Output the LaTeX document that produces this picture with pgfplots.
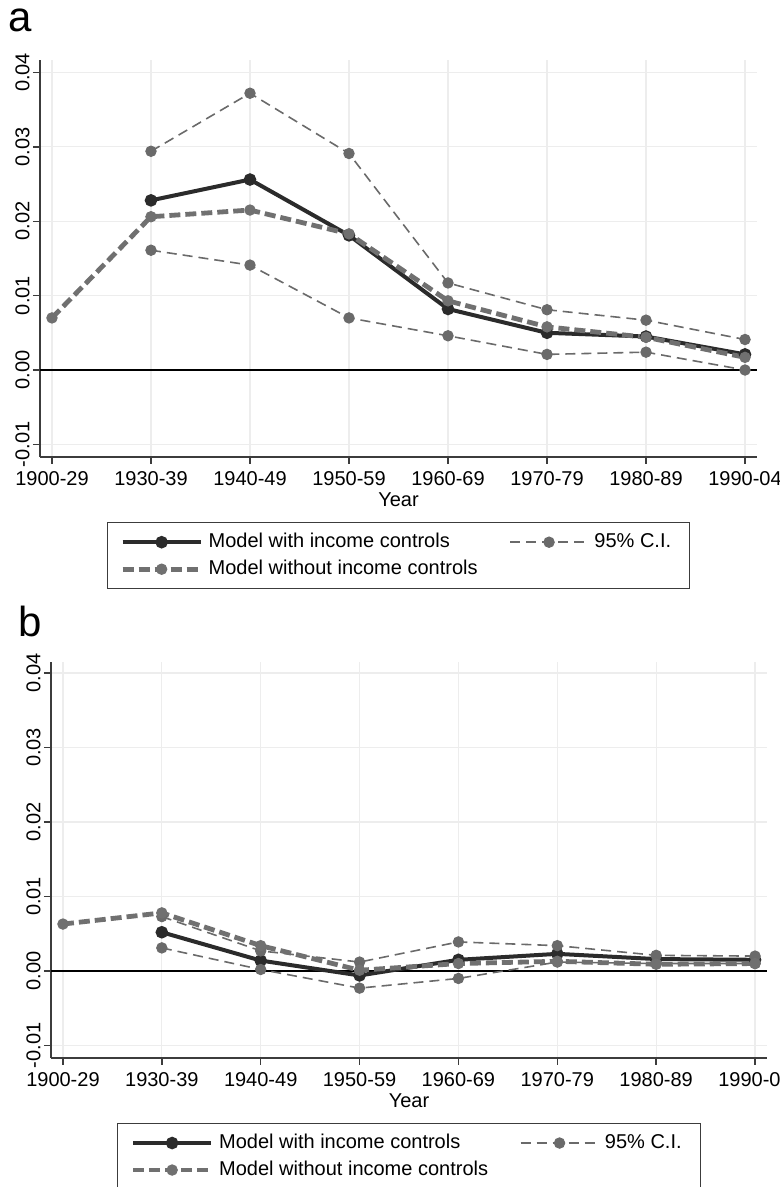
\documentclass[border=0pt]{standalone}
\usepackage{fontspec}
\setmainfont{Liberation Sans}
\usepackage{pgfplots}
\pgfplotsset{compat=1.18}

\definecolor{withc}{HTML}{2B2B2B}
\definecolor{woc}{HTML}{707070}
\definecolor{cic}{HTML}{6A6A6A}
\definecolor{gridc}{HTML}{EDEDED}
\definecolor{axc}{HTML}{3C3C3C}

\pgfplotsset{
  withstyle/.style={withc, line width=2pt, mark=*, mark size=2.1pt, mark options={solid, fill=withc}},
  wostyle/.style={woc, line width=2.4pt, dash pattern=on 5.5pt off 2.5pt, mark=*, mark size=2.6pt, mark options={solid, fill=woc, line width=0.5pt}},
  cistyle/.style={cic, line width=0.8pt, dash pattern=on 5pt off 3pt, mark=*, mark size=2.6pt, mark options={solid, fill=cic, line width=0.5pt}},
  panel/.style={
    scale only axis, width=358.5pt, height=198.5pt,
    xmin=-0.121, xmax=7.121,
    axis lines*=left, axis line style={axc, line width=0.7pt},
    tick align=outside, major tick length=3.5pt,
    tick style={axc, line width=0.7pt},
    xtick={0,...,7},
    xticklabels={1900-29,1930-39,1940-49,1950-59,1960-69,1970-79,1980-89,1990-04},
    ytick={-0.01,0,0.01,0.02,0.03,0.04},
    scaled y ticks=false,
    /pgf/number format/assume math mode=true,
    yticklabel style={rotate=90, anchor=south, inner sep=0pt,
      /pgf/number format/fixed, /pgf/number format/fixed zerofill,
      /pgf/number format/precision=2},
    yticklabel shift=1.5pt,
    grid=major, major grid style={gridc, line width=0.6pt},
    ticklabel style={font=\fontsize{10}{12}\selectfont},
    xlabel={Year},
    xlabel style={font=\fontsize{10}{12}\selectfont, at={(axis description cs:0.5,0)}, anchor=center, yshift=-21.5pt},
    legend columns=2,
    legend cell align=left,
    legend image code/.code={\draw[mark repeat=2,mark phase=2] plot coordinates {(0pt,0pt) (19.5pt,0pt) (39pt,0pt)};},
    legend style={at={(0.5,-0.164)}, anchor=north, draw=axc, line width=0.6pt,
      inner xsep=6.5pt, inner ysep=3pt,
      font=\fontsize{10}{12}\selectfont,
      nodes={inner xsep=2.8pt, inner ysep=2pt, text height=7.5pt, text depth=2pt},
      /tikz/every even column/.append style={column sep=13pt}},
  }
}

\begin{document}
\begin{tikzpicture}
\useasboundingbox (0,0) rectangle (390pt,593.5pt);

\node[anchor=base west, inner sep=0pt, font=\fontsize{21}{25}\selectfont] at (3.9pt,577.6pt) {a};
\node[anchor=base west, inner sep=0pt, font=\fontsize{21}{25}\selectfont] at (9pt,275pt) {b};

% panel a
\begin{axis}[panel, at={(20pt,365pt)}, anchor=south west,
  ymin=-0.01169, ymax=0.04167]
\draw[black, line width=1pt] ({rel axis cs:0,0} |- {axis cs:0,0}) -- ({rel axis cs:1,0} |- {axis cs:0,0});
\addplot[withstyle, forget plot] coordinates {
  (1,0.0228)(2,0.0256)(3,0.0181)(4,0.0082)(5,0.0050)(6,0.0045)(7,0.0021)};
\addplot[cistyle, forget plot] coordinates {
  (1,0.0294)(2,0.0372)(3,0.0291)(4,0.0117)(5,0.0081)(6,0.0067)(7,0.0041)};
\addplot[cistyle, forget plot] coordinates {
  (1,0.0161)(2,0.0141)(3,0.0070)(4,0.0046)(5,0.0021)(6,0.0024)(7,0.0000)};
\addplot[wostyle, forget plot] coordinates {
  (0,0.0070)(1,0.0206)(2,0.0215)(3,0.0183)(4,0.0093)(5,0.0058)(6,0.0044)(7,0.0017)};
\addlegendimage{withstyle}
\addlegendentry{Model with income controls}
\addlegendimage{cistyle}
\addlegendentry{95\% C.I.}
\addlegendimage{wostyle}
\addlegendentry{Model without income controls}
\end{axis}

% panel b
\begin{axis}[panel, at={(25.5pt,64.5pt)}, anchor=south west, width=358pt, height=198pt,
  ymin=-0.01168, ymax=0.04148]
\draw[black, line width=1pt] ({rel axis cs:0,0} |- {axis cs:0,0}) -- ({rel axis cs:1,0} |- {axis cs:0,0});
\addplot[withstyle, forget plot] coordinates {
  (1,0.0052)(2,0.0014)(3,-0.0006)(4,0.0015)(5,0.0023)(6,0.0016)(7,0.0015)};
\addplot[cistyle, forget plot] coordinates {
  (1,0.0073)(2,0.0027)(3,0.0012)(4,0.0039)(5,0.0034)(6,0.0021)(7,0.0020)};
\addplot[cistyle, forget plot] coordinates {
  (1,0.0031)(2,0.0002)(3,-0.0023)(4,-0.0010)(5,0.0012)(6,0.0010)(7,0.0010)};
\addplot[wostyle, forget plot] coordinates {
  (0,0.0063)(1,0.0078)(2,0.0034)(3,0.0001)(4,0.0010)(5,0.0013)(6,0.0009)(7,0.0010)};
\addlegendimage{withstyle}
\addlegendentry{Model with income controls}
\addlegendimage{cistyle}
\addlegendentry{95\% C.I.}
\addlegendimage{wostyle}
\addlegendentry{Model without income controls}
\end{axis}
\end{tikzpicture}
\end{document}
